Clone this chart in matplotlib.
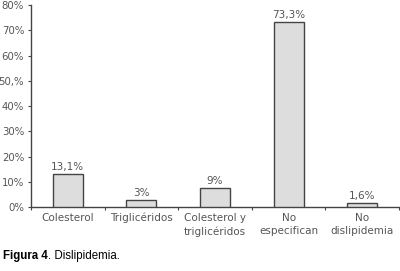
import matplotlib
matplotlib.use("Agg")
import matplotlib.pyplot as plt
from matplotlib.ticker import FixedLocator, NullFormatter
from matplotlib.transforms import offset_copy

categories = ["Colesterol", "Triglicéridos", "Colesterol y\ntriglicéridos", "No\nespecifican", "No\ndislipidemia"]
values = [13.1, 3.0, 7.7, 73.3, 1.6]
value_labels = ["13,1%", "3%", "9%", "73,3%", "1,6%"]
ytick_values = [0, 10, 20, 30, 40, 50, 60, 70, 80]
ytick_labels = ["0%", "10%", "20%", "30%", "40%", "50,%", "60%", "70%", "80%"]

text_color = "#555555"
fig = plt.figure(figsize=(4.0, 2.71), dpi=100)
ax = fig.add_axes([0.0775, 0.235, 0.92, 0.7465])

x = list(range(len(categories)))
ax.bar(x, values, width=0.41, color="#dddddd", edgecolor="#444444", linewidth=1.0, zorder=3)
for xi, v, lab in zip(x, values, value_labels):
    ax.annotate(lab, (xi, v), xytext=(0, 1.5), textcoords="offset points",
                ha="center", va="bottom", fontsize=7.5, color=text_color)

ax.set_xlim(-0.5, len(categories) - 0.5)
ax.set_ylim(0, 80)
ax.set_yticks(ytick_values)
ax.set_yticklabels(ytick_labels, fontsize=7.3, color=text_color)

ax.xaxis.set_major_locator(FixedLocator([i - 0.5 for i in range(len(categories) + 1)]))
ax.xaxis.set_major_formatter(NullFormatter())
ax.xaxis.set_minor_locator(FixedLocator(x))
ax.set_xticklabels(categories, minor=True, fontsize=7.5, color=text_color, linespacing=1.45)
ax.tick_params(axis="x", which="minor", length=0, pad=4)
ax.tick_params(axis="x", which="major", length=2.5, width=0.8, color="#444444")
ax.tick_params(axis="y", length=2.5, width=0.8, color="#444444", pad=2.5)

for s in ["top", "right"]:
    ax.spines[s].set_visible(False)
for s in ["left", "bottom"]:
    ax.spines[s].set_color("#444444")
    ax.spines[s].set_linewidth(1.0)

t1 = fig.text(0.008, 0.055, "Figura 4", fontsize=8.3, fontweight="bold", family="Liberation Sans",
              color="black", va="center", ha="left")
fig.canvas.draw()
bb = t1.get_window_extent()
fig.text(bb.x1 / fig.bbox.width, 0.055, ". Dislipidemia.", fontsize=8.3, family="Liberation Sans",
         color="black", va="center", ha="left")

fig.savefig("out.png", dpi=100)
